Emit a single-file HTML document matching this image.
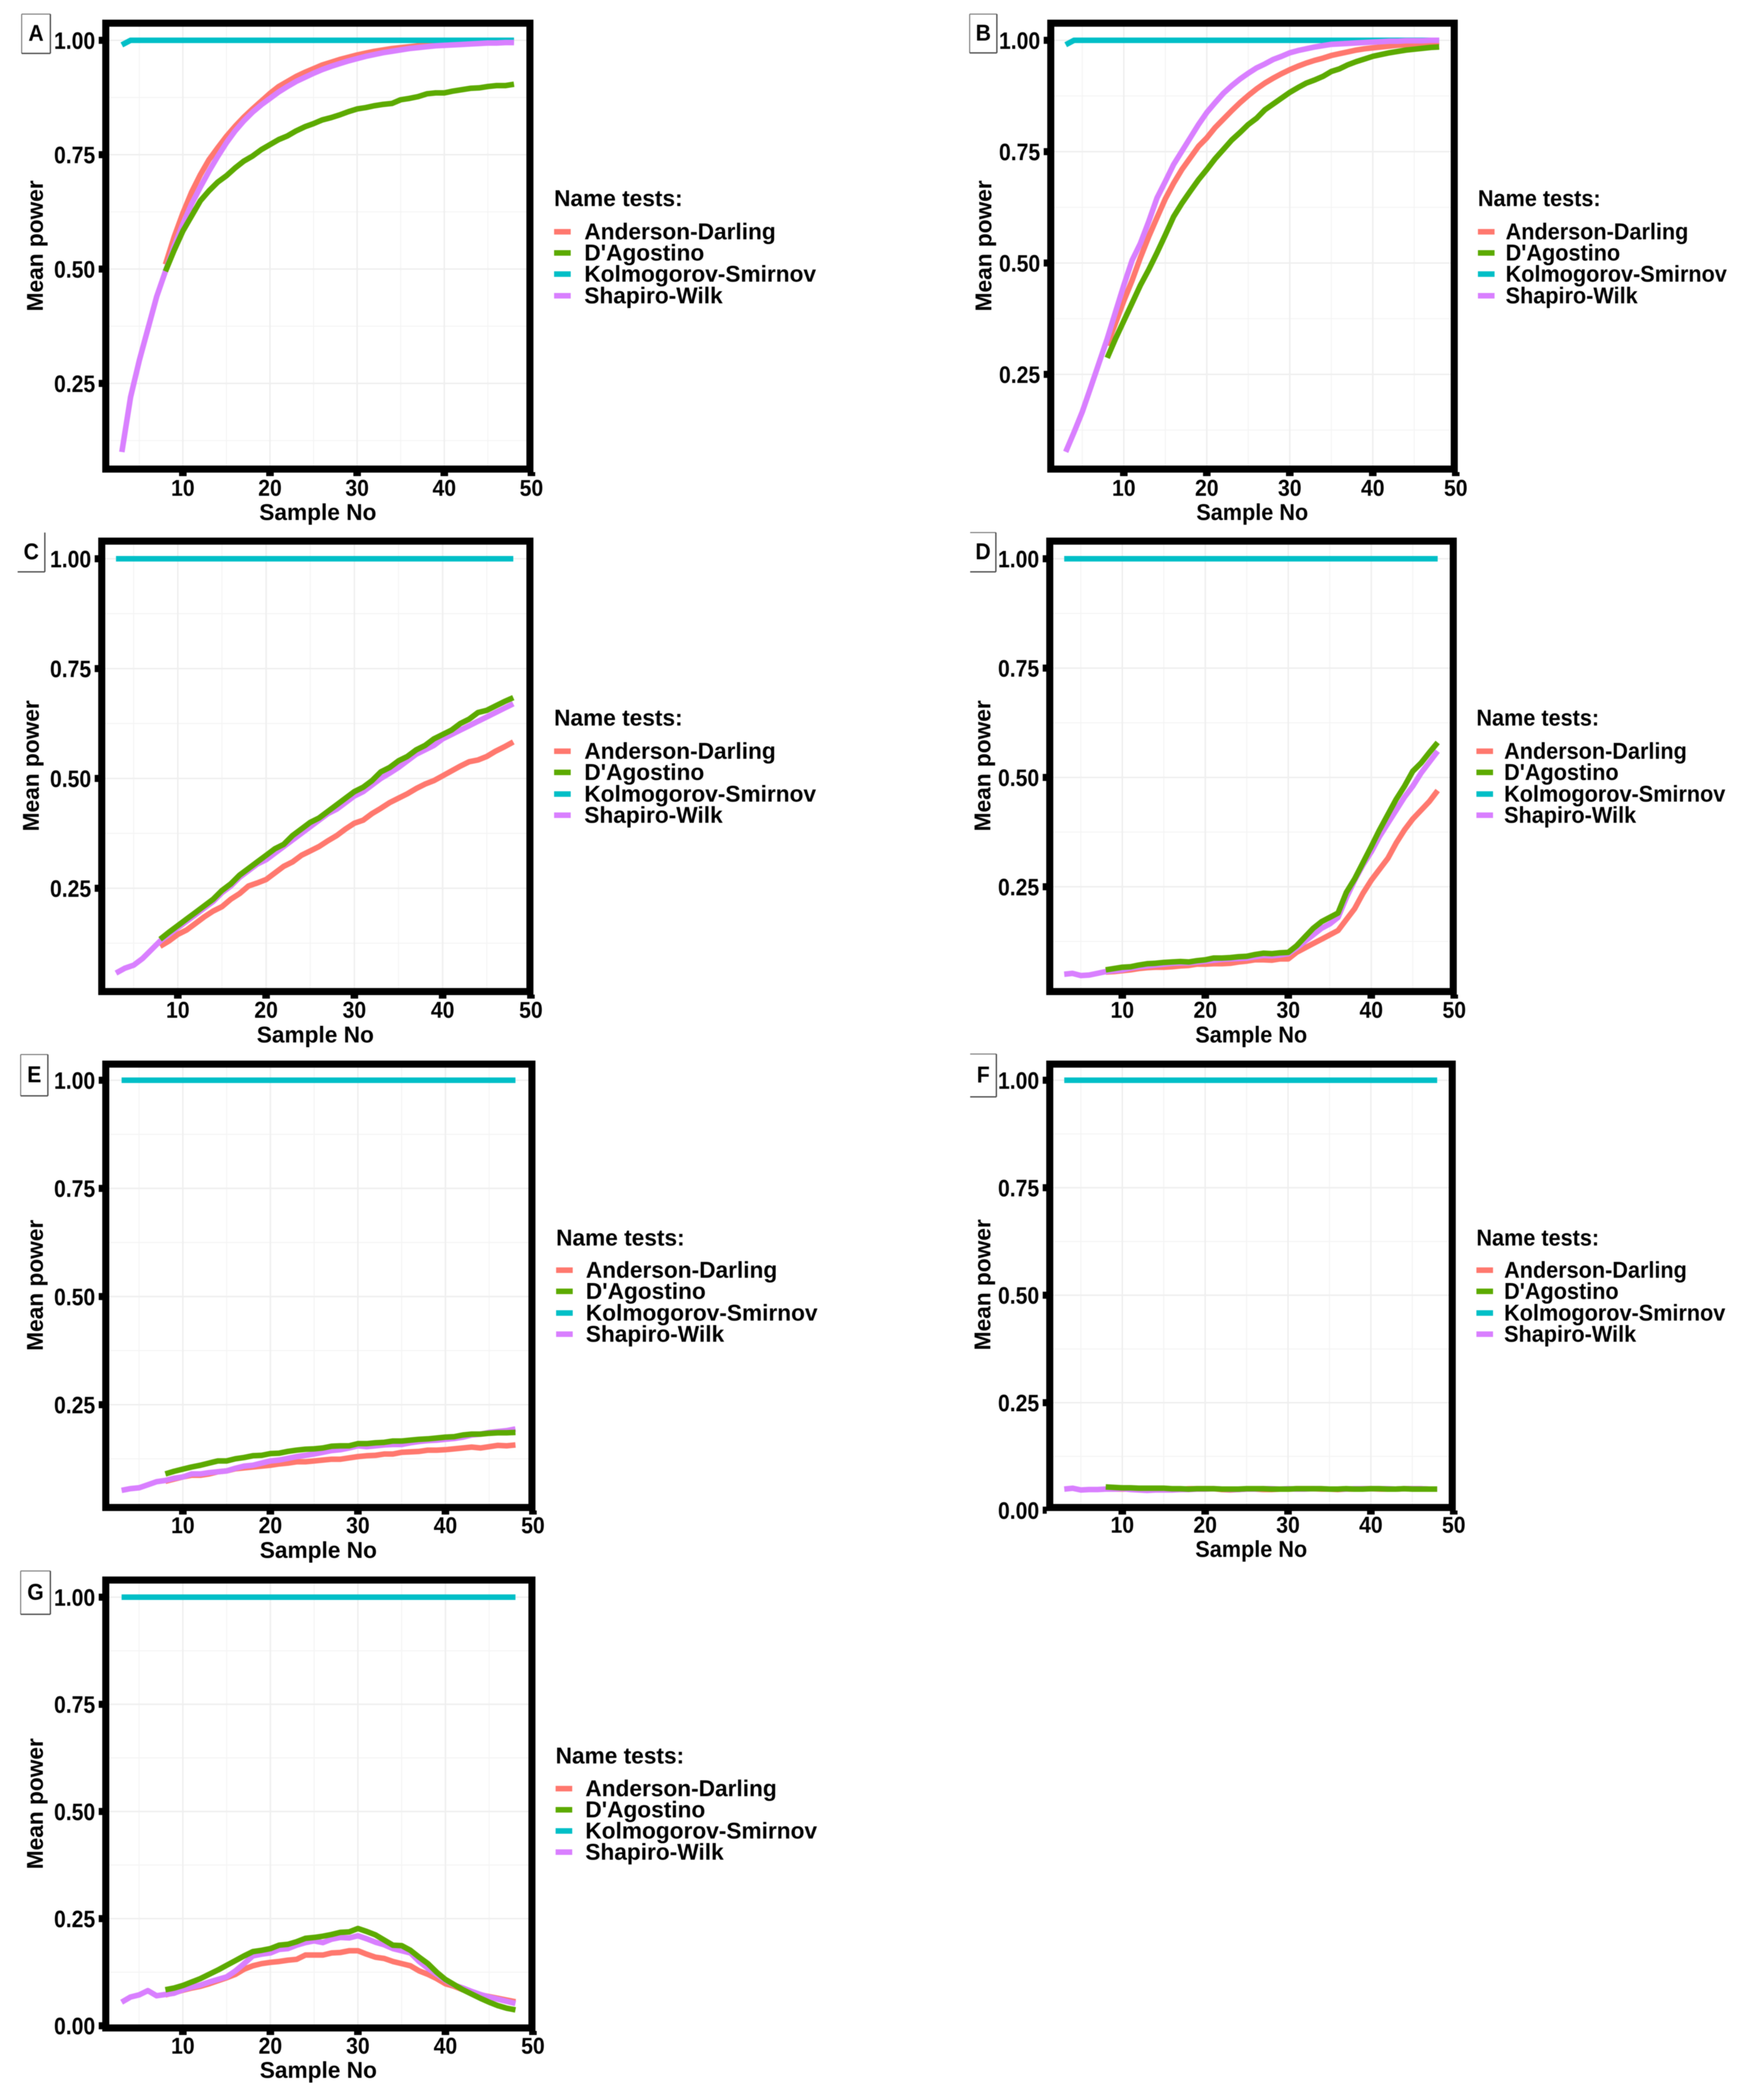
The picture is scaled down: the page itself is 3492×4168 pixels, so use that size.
<!DOCTYPE html>
<html lang="en">
<head>
<meta charset="utf-8">
<title>Mean power of normality tests by sample size</title>
<style>
html,body{margin:0;padding:0;background:#fff;width:3492px;height:4168px;overflow:hidden}
svg{display:block;position:absolute;left:0;top:0;filter:blur(0.8px)}
text{font-family:"Liberation Sans",Arial,sans-serif;font-weight:700;fill:#000}
</style>
</head>
<body>
<svg id="figure" xmlns="http://www.w3.org/2000/svg" width="3492" height="4168" viewBox="0 0 3492 4168"></svg>
<script>
// ---- categories and tick labels ----
const longSizes = [3,4,5,6,7,8,9,10,11,12,13,14,15,16,17,18,19,20,21,22,23,24,25,26,27,28,29,30,31,32,33,34,35,36,37,38,39,40,41,42,43,44,45,46,47,48];
const shortSizes = [8,9,10,11,12,13,14,15,16,17,18,19,20,21,22,23,24,25,26,27,28,29,30,31,32,33,34,35,36,37,38,39,40,41,42,43,44,45,46,47,48];
const xTickValues = [10,20,30,40,50];
const xMinorValues = [5,15,25,35,45];
const yTickValuesNoZero = [1,0.75,0.5,0.25];
const yTickValuesZero = [1,0.75,0.5,0.25,0];
const yMinorValues = [0.875,0.625,0.375,0.125];
const testNames = ["Anderson-Darling","D'Agostino","Kolmogorov-Smirnov","Shapiro-Wilk"];

// ---- series values ----
const ksEarly = [.99,1,1,1,1,1,1,1,1,1, 1,1,1,1,1,1,1,1,1,1, 1,1,1,1,1,1,1,1,1,1, 1,1,1,1,1,1,1,1,1,1, 1,1,1,1,1,1];
const ksFlat = [1,1,1,1,1,1,1,1,1,1, 1,1,1,1,1,1,1,1,1,1, 1,1,1,1,1,1,1,1,1,1, 1,1,1,1,1,1,1,1,1,1, 1,1,1,1,1,1];

const aShapiro = [.10,.22,.30,.37,.44,.495,.55,.598,.642,.679, .714,.746,.776,.802,.824,.843,.859,.873,.887,.899, .91,.919,.928,.936,.943,.949,.955,.96,.965,.969, .973,.976,.979,.982,.984,.986,.988,.989,.99,.991, .992,.993,.994,.994,.995,.995];
const aAnderson = [.51,.57,.622,.668,.706, .739,.765,.79,.812,.832,.85,.867,.884,.899,.91, .921,.93,.938,.946,.952,.958,.963,.968,.972,.976, .979,.982,.984,.986,.988,.99,.991,.992,.993,.994, .995,.996,.996,.997,.998,.998];
const aAgostino = [.495,.541,.583,.616,.649, .671,.69,.704,.721,.736,.747,.761,.772,.783,.791, .802,.811,.818,.826,.831,.837,.844,.85,.853,.857, .86,.862,.87,.873,.877,.883,.885,.885,.889,.892, .895,.896,.899,.901,.901,.904];

const bShapiro = [.076,.12,.166,.22,.275,.33,.39,.45,.506,.544, .593,.646,.683,.721,.751,.781,.811,.838,.86,.881, .898,.913,.926,.938,.947,.957,.964,.972,.977,.981, .985,.988,.991,.992,.993,.994,.995,.996,.997,.998, .998,.999,.999,.999,1,1];
const bAnderson = [.315,.365,.415,.461,.512, .559,.602,.644,.679,.71,.736,.762,.781,.804,.823, .842,.86,.876,.891,.904,.915,.925,.934,.942,.949, .955,.96,.966,.97,.974,.978,.981,.983,.985,.987, .989,.99,.992,.993,.995,.996];
const bAgostino = [.287,.33,.37,.41,.45, .485,.523,.563,.604,.634,.661,.687,.71,.734,.755, .776,.793,.811,.825,.844,.857,.87,.883,.894,.904, .911,.919,.93,.936,.945,.952,.958,.964,.968,.972, .975,.978,.98,.982,.984,.985];

const cShapiro = [.057,.068,.075,.09,.11,.13,.145,.16,.175,.19, .205,.22,.24,.255,.275,.29,.305,.315,.33,.345, .36,.375,.39,.405,.42,.43,.445,.46,.47,.485, .50,.512,.525,.54,.555,.565,.575,.59,.60,.61, .62,.63,.64,.65,.66,.67];
const cAnderson = [.118,.13,.145,.155,.17, .185,.198,.208,.225,.238,.255,.262,.27,.285,.30, .31,.325,.335,.345,.358,.37,.385,.398,.405,.42, .432,.445,.455,.465,.477,.487,.495,.506,.517,.528, .538,.542,.55,.562,.572,.583];
const cAgostino = [.134,.15,.165,.18,.195, .21,.225,.245,.26,.28,.295,.31,.325,.34,.35, .37,.385,.40,.41,.425,.44,.455,.47,.48,.495, .515,.525,.54,.55,.565,.575,.59,.60,.61,.625, .635,.65,.655,.665,.675,.684];

const dShapiro = [.05,.052,.047,.048,.052,.056,.058,.06,.064,.067, .069,.071,.073,.075,.076,.076,.078,.08,.082,.084, .085,.086,.087,.09,.093,.092,.094,.097,.11,.125, .14,.155,.165,.18,.225,.265,.30,.33,.365,.395, .425,.455,.48,.51,.535,.56];
const dAnderson = [.055,.056,.058,.06,.063, .065,.066,.066,.067,.069,.07,.073,.073,.074,.074, .075,.078,.08,.083,.083,.082,.085,.085,.10,.11, .12,.13,.14,.15,.175,.20,.235,.265,.29,.315, .35,.38,.405,.425,.445,.47];
const dAgostino = [.06,.063,.066,.067,.071, .074,.075,.077,.078,.079,.078,.081,.083,.087,.087, .088,.09,.091,.095,.098,.097,.099,.10,.115,.135, .155,.17,.18,.19,.237,.268,.305,.342,.38,.415, .45,.48,.514,.533,.557,.58];

const eShapiro = [.052,.056,.058,.065,.072,.075,.08,.083,.09,.09, .093,.095,.097,.103,.108,.11,.115,.12,.122,.126, .13,.133,.136,.14,.144,.146,.15,.155,.153,.155, .157,.158,.158,.162,.165,.167,.168,.17,.172,.175, .18,.182,.186,.188,.19,.194];
const eAnderson = [.073,.078,.083,.087,.087, .09,.095,.097,.102,.104,.106,.108,.11,.113,.115, .118,.118,.12,.122,.124,.124,.127,.13,.132,.133, .136,.136,.14,.141,.142,.145,.145,.146,.148,.15, .152,.15,.153,.156,.155,.157];
const eAgostino = [.09,.096,.101,.106,.11, .115,.12,.12,.125,.128,.132,.133,.137,.138,.142, .145,.147,.148,.15,.154,.155,.155,.16,.16,.162, .163,.166,.166,.168,.17,.171,.173,.175,.176,.18, .182,.182,.184,.185,.185,.186];

const fShapiro = [.049,.051,.047,.048,.048,.049,.049,.05,.048,.047, .046,.047,.047,.047,.048,.048,.049,.049,.05,.049, .048,.048,.049,.049,.05,.05,.049,.05,.049,.049, .05,.05,.049,.049,.049,.05,.05,.05,.05,.05, .049,.05,.05,.05,.049,.049];
const fAnderson = [.05,.049,.049,.049,.049, .048,.048,.049,.049,.048,.05,.05,.05,.05,.048, .047,.048,.049,.049,.048,.048,.049,.049,.05,.05, .05,.049,.049,.048,.049,.049,.05,.05,.049,.049, .049,.05,.05,.05,.049,.049];
const fAgostino = [.054,.053,.052,.052,.051, .051,.051,.051,.05,.05,.049,.05,.05,.05,.049, .049,.049,.05,.05,.05,.049,.049,.049,.05,.05, .05,.05,.049,.049,.05,.049,.049,.05,.05,.049, .049,.05,.049,.049,.049,.049];

const gShapiro = [.055,.067,.072,.082,.07,.073,.076,.084,.09,.095, .102,.108,.114,.128,.145,.163,.167,.17,.178,.18, .188,.194,.198,.194,.202,.206,.205,.21,.203,.195, .189,.18,.175,.17,.15,.134,.12,.106,.095,.088, .08,.073,.067,.062,.057,.052];
const gAnderson = [.072,.077,.083,.088,.092, .098,.105,.112,.12,.132,.14,.145,.148,.15,.153, .155,.165,.165,.165,.17,.171,.175,.175,.167,.16, .157,.15,.145,.14,.128,.12,.11,.098,.092,.084, .077,.072,.068,.064,.06,.056];
const gAgostino = [.084,.088,.094,.102,.11, .12,.13,.141,.152,.163,.173,.176,.18,.188,.19, .196,.204,.206,.209,.213,.218,.219,.227,.22,.212, .2,.188,.187,.176,.16,.145,.125,.108,.096,.084, .074,.064,.055,.047,.041,.037];

// ---- layout of each panel (pixels) ----
const layout = {
  A:{L:203,R:1059,T:39,B:938,x10:363,x50:1055,y1:80,y25:761,box:[43,28,100,106],edges:'trbl',hs:1,ylab:70,ymid:488,xmid:631,xlab:1017,xtick:969,sw:1100,tx:1160,title:394,items:[460,502,544,587],yt:yTickValuesNoZero},
  B:{L:2079,R:2894,T:39,B:938,x10:2231,x50:2890,y1:80,y25:743,box:[1925,28,1979,105],edges:'trbl',hs:0.955,ylab:1953,ymid:488,xmid:2486,xlab:1017,xtick:969,sw:2934,tx:2989,title:394,items:[460,502,544,587],yt:yTickValuesNoZero},
  C:{L:195,R:1059,T:1067,B:1975,x10:353,x50:1054,y1:1109,y25:1763,box:[35,1057,89,1135],edges:'rb',hs:1,ylab:62,ymid:1520,xmid:626,xlab:2054,xtick:2005,sw:1100,tx:1160,title:1425,items:[1491,1533,1576,1618],yt:yTickValuesNoZero},
  D:{L:2077,R:2892,T:1067,B:1975,x10:2228,x50:2887,y1:1109,y25:1760,box:[1926,1057,1977,1135],edges:'trb',hs:0.955,ylab:1951,ymid:1520,xmid:2484,xlab:2054,xtick:2005,sw:2931,tx:2986,title:1425,items:[1491,1533,1576,1618],yt:yTickValuesNoZero},
  E:{L:203,R:1063,T:2105,B:2999,x10:363,x50:1058,y1:2144,y25:2788,box:[41,2093,95,2175],edges:'trbl',hs:1,ylab:70,ymid:2551,xmid:632,xlab:3077,xtick:3028,sw:1104,tx:1163,title:2457,items:[2521,2563,2606,2648],yt:yTickValuesNoZero},
  F:{L:2077,R:2890,T:2105,B:2999,x10:2228,x50:2886,y1:2144,y25:2784,box:[1926,2092,1978,2177],edges:'trb',hs:0.955,ylab:1951,ymid:2550,xmid:2484,xlab:3075,xtick:3027,sw:2931,tx:2986,title:2457,items:[2521,2563,2606,2648],yt:yTickValuesZero},
  G:{L:203,R:1063,T:3129,B:4032,x10:363,x50:1058,y1:3170,y25:3808,box:[41,3118,100,3204],edges:'trbl',hs:1,ylab:70,ymid:3580,xmid:632,xlab:4109,xtick:4061,sw:1103,tx:1162,title:3485,items:[3550,3592,3634,3676],yt:yTickValuesZero}
};
const panelSeries = {
  A:{ad:aAnderson,da:aAgostino,ks:ksEarly,sw:aShapiro},
  B:{ad:bAnderson,da:bAgostino,ks:ksEarly,sw:bShapiro},
  C:{ad:cAnderson,da:cAgostino,ks:ksFlat,sw:cShapiro},
  D:{ad:dAnderson,da:dAgostino,ks:ksFlat,sw:dShapiro},
  E:{ad:eAnderson,da:eAgostino,ks:ksFlat,sw:eShapiro},
  F:{ad:fAnderson,da:fAgostino,ks:ksFlat,sw:fShapiro},
  G:{ad:gAnderson,da:gAgostino,ks:ksFlat,sw:gShapiro}
};
const colAD = '#FF786E', colDA = '#5CAA00', colKS = '#00BFC7', colSW = '#D97FFF';
const legendColors = [colAD,colDA,colKS,colSW];

const NS = 'http://www.w3.org/2000/svg';
const root = document.getElementById('figure');
function mk(tag, parent, attrs, txt){
  const el = document.createElementNS(NS, tag);
  for (const k in attrs) el.setAttribute(k, attrs[k]);
  if (txt !== undefined) el.textContent = txt;
  parent.appendChild(el);
  return el;
}
function label(parent, x, y, size, anchor, hs, vs, str){
  return mk('text', parent, {x:0,y:0,'text-anchor':anchor,'font-size':size,transform:'translate('+x+','+y+') scale('+hs+','+vs+')'}, str);
}
function fmtY(v){ return v.toFixed(2); }

Object.keys(layout).forEach(function(id){
  const p = layout[id];
  const s = panelSeries[id];
  const unit = (p.y25 - p.y1) / 0.75;
  const sx = function(v){ return p.x10 + (v - 10) * (p.x50 - p.x10) / 40; };
  const sy = function(v){ return p.y1 + (1 - v) * unit; };

  const g = mk('g', root, {});
  
  

  // grid
  const grid = mk('g', g, {});
  
  
  xMinorValues.forEach(function(v){
    mk('line', grid, {x1:sx(v),x2:sx(v),y1:p.T,y2:p.B,stroke:'#f4f4f4','stroke-width':2});
  });
  yMinorValues.forEach(function(v){
    mk('line', grid, {x1:p.L,x2:p.R,y1:sy(v),y2:sy(v),stroke:'#f4f4f4','stroke-width':2});
  });
  xTickValues.forEach(function(v){
    mk('line', grid, {x1:sx(v),x2:sx(v),y1:p.T,y2:p.B,stroke:'#efefef','stroke-width':3});
  });
  p.yt.forEach(function(v){
    mk('line', grid, {x1:p.L,x2:p.R,y1:sy(v),y2:sy(v),stroke:'#efefef','stroke-width':3});
  });

  // series lines
  function drawLine(xs, ys, color, name){
    const pts = xs.map(function(x, i){ return sx(x).toFixed(1) + ',' + sy(ys[i]).toFixed(1); }).join(' ');
    const line = mk('polyline', g, {points:pts,fill:'none',stroke:color,'stroke-width':11,'stroke-linejoin':'round','stroke-linecap':'butt'});
    
    
  }
  drawLine(shortSizes, s.ad, colAD, 'anderson-darling-line');
  drawLine(longSizes, s.ks, colKS, 'kolmogorov-smirnov-line');
  drawLine(longSizes, s.sw, colSW, 'shapiro-wilk-line');
  drawLine(shortSizes, s.da, colDA, 'dagostino-line');

  // frame
  const frame = mk('rect', g, {x:p.L+7,y:p.T+7,width:p.R-p.L-14,height:p.B-p.T-14,fill:'none',stroke:'#000','stroke-width':14});
  
  

  // y axis ticks + labels
  p.yt.forEach(function(v){
    mk('rect', g, {x:p.L-7,y:sy(v)-7,width:8,height:14,fill:'#000'});
    const t = label(g, p.L-14, sy(v)+17, 42, 'end', 1, 1.12, fmtY(v));
    
    
  });
  // x axis ticks + labels
  xTickValues.forEach(function(v){
    mk('rect', g, {x:sx(v)-7.5,y:p.B-1,width:15,height:8,fill:'#000'});
    const t = label(g, sx(v), p.xtick+15, 42, 'middle', 1, 1.08, String(v));
    
    
  });

  // axis titles
  const xt = label(g, p.xmid, p.xlab+15, 45, 'middle', p.hs, 1, 'Sample No');
  
  
  const yt = mk('text', g, {x:0,y:0,'text-anchor':'middle','font-size':45,transform:'translate('+(p.ylab+15)+','+p.ymid+') rotate(-90)'}, 'Mean power');
  
  

  // panel letter box
  const b = p.box;
  const box = mk('rect', g, {x:b[0],y:b[1],width:b[2]-b[0],height:b[3]-b[1],fill:'#fff',stroke:'none'});
  
  
  if (p.edges.indexOf('t') >= 0) mk('line', g, {x1:b[0],x2:b[2],y1:b[1],y2:b[1],stroke:'#777','stroke-width':2});
  if (p.edges.indexOf('l') >= 0) mk('line', g, {x1:b[0],x2:b[0],y1:b[1],y2:b[3],stroke:'#777','stroke-width':2});
  if (p.edges.indexOf('r') >= 0) mk('line', g, {x1:b[2],x2:b[2],y1:b[1],y2:b[3],stroke:'#444','stroke-width':2.5});
  if (p.edges.indexOf('b') >= 0) mk('line', g, {x1:b[0],x2:b[2],y1:b[3],y2:b[3],stroke:'#444','stroke-width':2.5});
  const letter = label(g, (b[0]+b[2])/2, (b[1]+b[3])/2+14, 42, 'middle', 1, 1.08, id);
  
  

  // legend
  const lg = mk('g', g, {});
  
  
  const lt = label(lg, p.sw, p.title+15, 45, 'start', p.hs, 1, 'Name tests:');
  
  
  testNames.forEach(function(nm, i){
    const sw = mk('rect', lg, {x:p.sw,y:p.items[i]-5.5,width:33,height:11,fill:legendColors[i]});
    
    
    const lb = label(lg, p.tx, p.items[i]+15, 45, 'start', p.hs, 1, nm);
    
    
  });
});
</script>
</body>
</html>
